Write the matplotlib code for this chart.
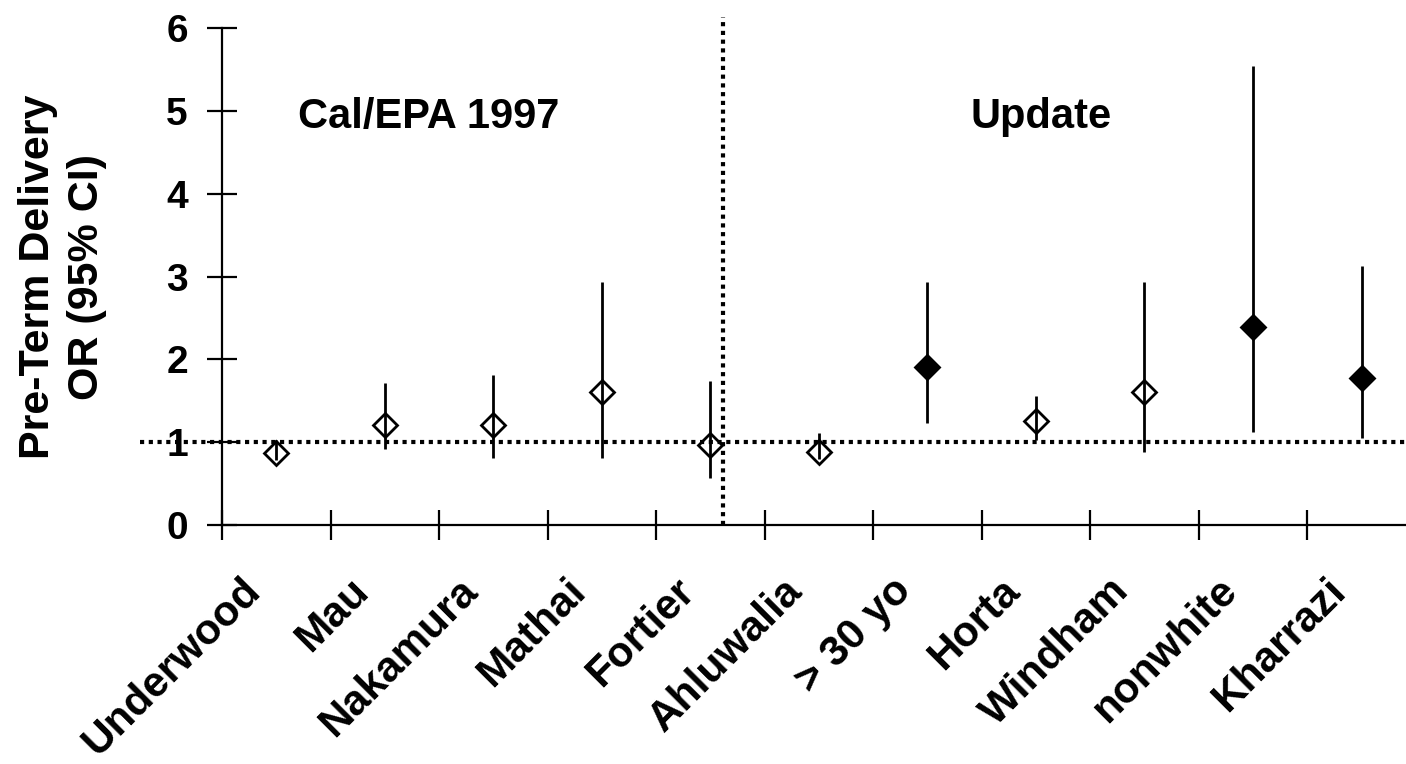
import numpy as np
import matplotlib
matplotlib.use('Agg')
from matplotlib import pyplot as plt
from matplotlib.transforms import ScaledTranslation

plt.rcParams['font.family'] = ['Liberation Sans', 'DejaVu Sans']
plt.rcParams['font.weight'] = 'bold'

# studies, odds ratios and 95% CI
studies = ['Underwood', 'Mau', 'Nakamura', 'Mathai', 'Fortier', 'Ahluwalia',
           '> 30 yo', 'Horta', 'Windham', 'nonwhite', 'Kharrazi']
odds = [0.87, 1.21, 1.21, 1.60, 0.97, 0.88, 1.91, 1.25, 1.60, 2.39, 1.77]
ci_low = [0.78, 0.92, 0.81, 0.81, 0.57, 0.80, 1.23, 1.03, 0.88, 1.12, 1.05]
ci_high = [1.03, 1.72, 1.81, 2.93, 1.74, 1.11, 2.93, 1.56, 2.93, 5.54, 3.13]
filled = [False, False, False, False, False, False, True, False, False, True, True]

yticks = [0, 1, 2, 3, 4, 5, 6]
group_labels = ['Cal/EPA 1997', 'Update']

fig = plt.figure(figsize=(14.06, 7.64), dpi=100)
ax = fig.add_axes([222 / 1406, 239 / 764, 1184 / 1406, 497 / 764])

x = np.arange(len(studies)) + 0.5

ax.vlines(x, ci_low, ci_high, color='black', lw=2.0, zorder=2)
for xi, yi, f in zip(x, odds, filled):
    ax.plot(xi, yi, marker='D', ms=12.5, mec='black', mew=2.0,
            mfc='black' if f else 'none', linestyle='none', zorder=3)

# reference lines
ax.plot([-0.76, 10.91], [1, 1], color='black', lw=3.0,
        linestyle=(0, (1, 1.1)), clip_on=False, zorder=1)
ax.plot([4.62, 4.62], [0, 6.13], color='black', lw=3.0,
        linestyle=(0, (1, 1.1)), clip_on=False, zorder=1)

ax.text(0.70, 4.79, group_labels[0], fontsize=30, fontweight='bold', ha='left', va='baseline')
ax.text(6.90, 4.79, group_labels[1], fontsize=30, fontweight='bold', ha='left', va='baseline')

ax.set_xlim(0, 10.91)
ax.set_ylim(0, 6)
ax.spines['top'].set_visible(False)
ax.spines['right'].set_visible(False)
ax.spines['left'].set_linewidth(1.6)
ax.spines['bottom'].set_linewidth(1.6)

ax.set_yticks(yticks)
ax.set_yticklabels([str(v) for v in yticks], fontsize=28, fontweight='bold')
ax.tick_params(axis='y', direction='inout', length=21, width=1.6, pad=14)

ax.set_xticks(x)
ax.set_xticklabels(studies, fontsize=30.5, fontweight='bold', rotation=45,
                   ha='right', va='center', rotation_mode='anchor')
ax.tick_params(axis='x', which='major', length=0, pad=43)
ax.set_xticks(np.arange(0, 11), minor=True)
ax.tick_params(axis='x', which='minor', direction='inout', length=21, width=1.6)

# nudge the rotated labels a bit left, like the original layout
shift = ScaledTranslation(-0.22, 0, fig.dpi_scale_trans)
for lab in ax.get_xticklabels():
    lab.set_transform(lab.get_transform() + shift)

ax.set_ylabel('Pre-Term Delivery\nOR (95% CI)', fontsize=31, fontweight='bold',
              linespacing=1.3)
ax.yaxis.set_label_coords(-0.097, 0.5)

fig.savefig('out.png', dpi=100)
